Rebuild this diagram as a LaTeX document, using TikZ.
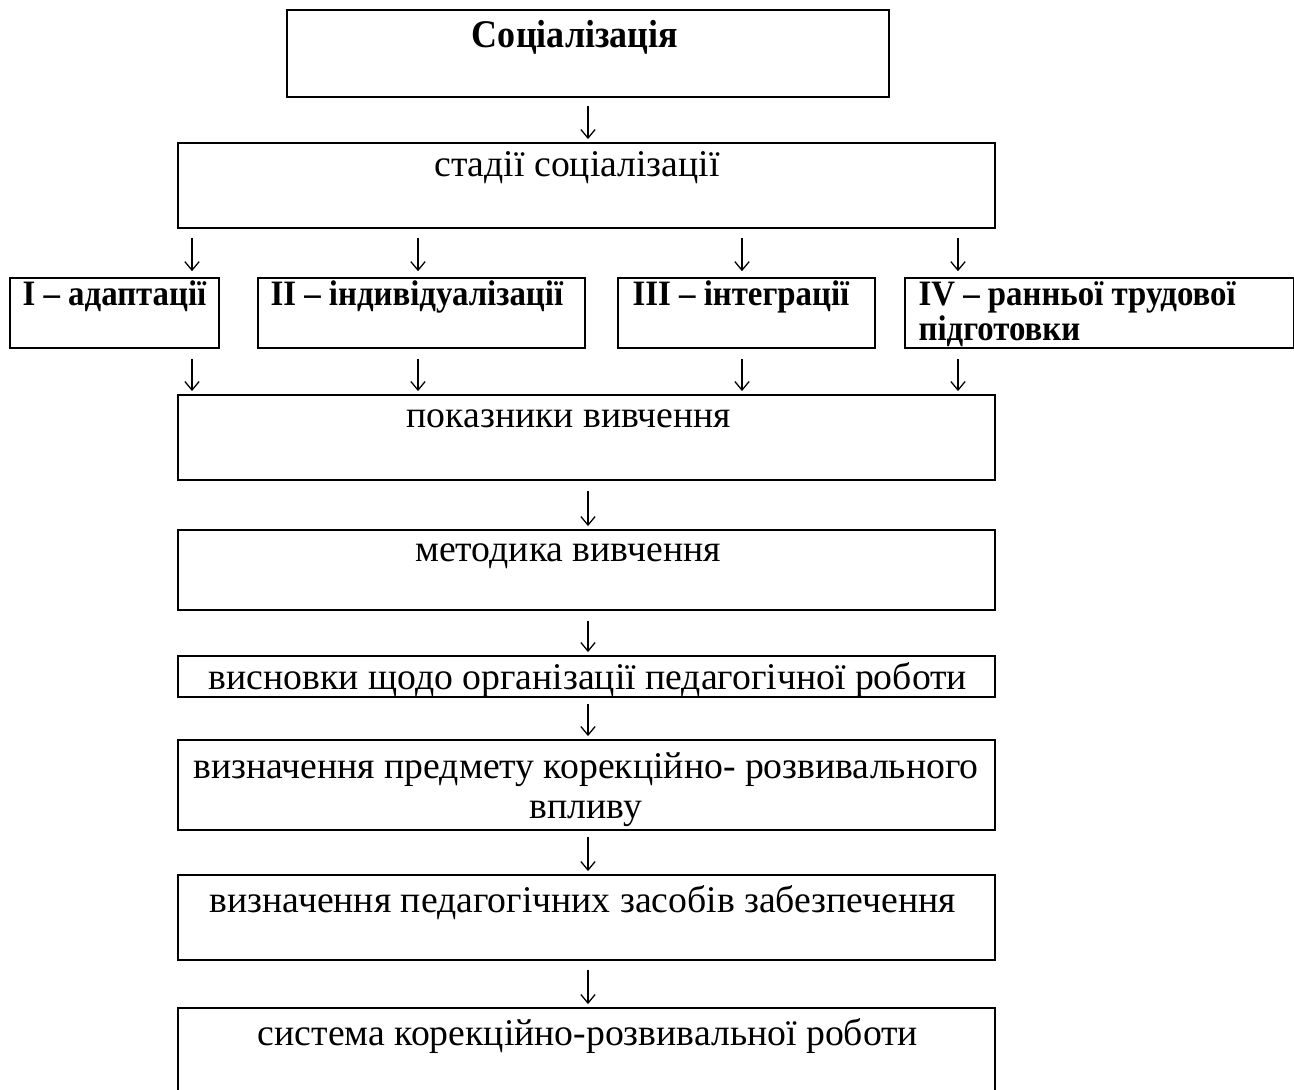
\documentclass[tikz,border=0pt]{standalone}
\usepackage{fontspec}
\setmainfont{Liberation Serif}
\newfontfamily\condserif[FakeStretch=0.92]{Liberation Serif}
\usetikzlibrary{fit,arrows.meta}
\begin{document}
\begin{tikzpicture}[x=0.35pt,y=-0.35pt,
  box/.style={draw,line width=0.75pt,inner sep=0pt,rectangle},
  txt/.style={inner sep=0pt,anchor=base,font=\fontsize{13.2}{15}\selectfont},
  btxt/.style={inner sep=0pt,anchor=base west,font=\condserif\fontsize{12.5}{14}\selectfont\bfseries},
  arr/.style={line width=0.45pt,-{Straight Barb[length=3pt,width=5pt]}}
]
\useasboundingbox (0,0) rectangle (1294,1090);
% boxes
\node[box,fit={(287,10) (889,97)}] (b1) {};
\node[box,fit={(178,143) (995,228)}] (b2) {};
\node[box,fit={(10,278) (219,348)}] (s1) {};
\node[box,fit={(258,278) (585,348)}] (s2) {};
\node[box,fit={(618,278) (875,348)}] (s3) {};
\node[box,fit={(905,278) (1294,348)}] (s4) {};
\node[box,fit={(178,395) (995,480)}] (b3) {};
\node[box,fit={(178,530) (995,610)}] (b4) {};
\node[box,fit={(178,656) (995,697)}] (b5) {};
\node[box,fit={(178,740) (995,830)}] (b6) {};
\node[box,fit={(178,875) (995,960)}] (b7) {};
\node[box,fit={(178,1008) (995,1095)}] (b8) {};
% texts
\node[txt,font=\condserif\fontsize{13.7}{15}\selectfont\bfseries] (t1) at (575,48) {Соціалізація};
\node[txt] (t2) at (577,177) {стадії соціалізації};
\node[btxt] (ts1) at (22,306) {I – адаптації};
\node[btxt] (ts2) at (270,306) {II – індивідуалізації};
\node[btxt] (ts3) at (632,306) {III – інтеграції};
\node[btxt] (ts4) at (918,306) {IV – ранньої трудової};
\node[btxt] (ts4b) at (918,341) {підготовки};
\node[txt] (t3) at (569,428) {показники вивчення};
\node[txt] (t4) at (568,562) {методика вивчення};
\node[txt] (t5) at (588,690) {висновки щодо організації педагогічної роботи};
\node[txt] (t6) at (586,778) {визначення предмету корекційно- розвивального};
\node[txt] (t6b) at (586,818) {впливу};
\node[txt] (t7) at (583,912) {визначення педагогічних засобів забезпечення};
\node[txt] (t8) at (588,1045) {система корекційно-розвивальної роботи};
% arrow columns
\coordinate (c0) at (588,0);
\coordinate (c1) at (192,0);
\coordinate (c2) at (418,0);
\coordinate (c3) at (742,0);
\coordinate (c4) at (958,0);
% connectors
\draw[arr,shorten <=2.8pt,shorten >=1pt] (b1.south -| c0) -- (b2.north -| c0);
\foreach \s/\c in {s1/c1,s2/c2,s3/c3,s4/c4}{
  \draw[arr,shorten <=3pt,shorten >=2pt] (b2.south -| \c) -- (\s.north -| \c);
  \draw[arr,shorten <=3.5pt,shorten >=1pt] (\s.south -| \c) -- (b3.north -| \c);
}
\draw[arr,shorten <=3.5pt,shorten >=1pt] (b3.south -| c0) -- (b4.north -| c0);
\draw[arr,shorten <=3.5pt,shorten >=1pt] (b4.south -| c0) -- (b5.north -| c0);
\draw[arr,shorten <=2pt,shorten >=1pt] (b5.south -| c0) -- (b6.north -| c0);
\draw[arr,shorten <=2pt,shorten >=1pt] (b6.south -| c0) -- (b7.north -| c0);
\draw[arr,shorten <=3pt,shorten >=1pt] (b7.south -| c0) -- (b8.north -| c0);
\end{tikzpicture}
\end{document}
